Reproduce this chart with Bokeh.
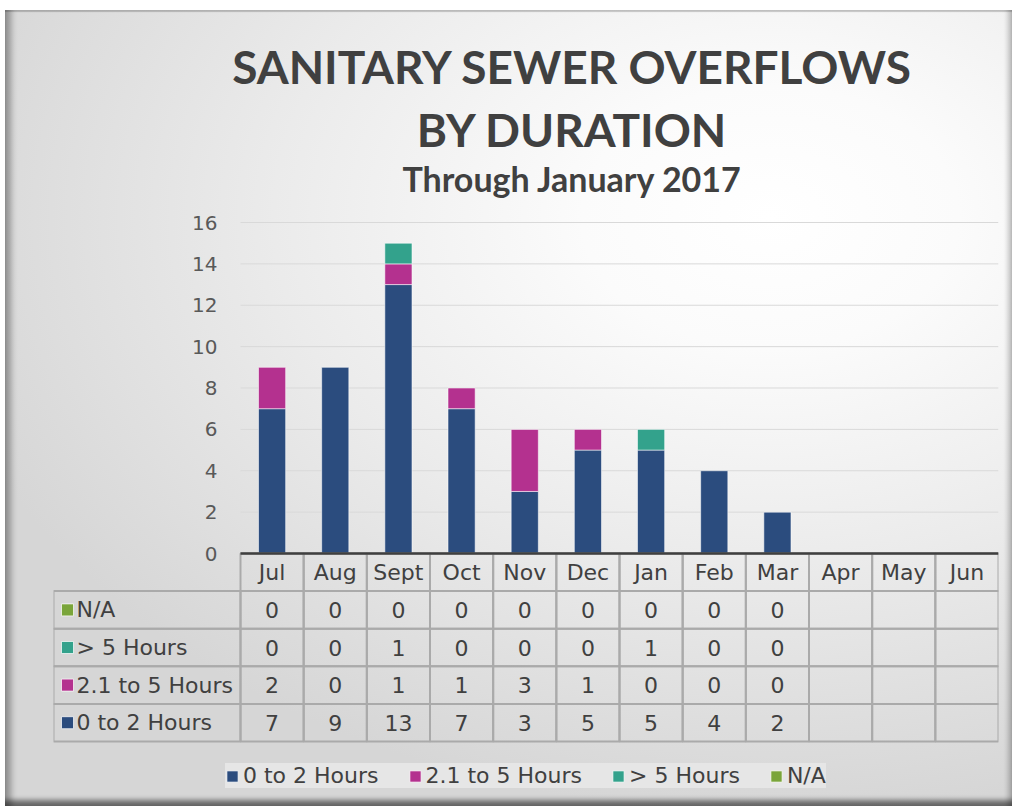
from bokeh.plotting import figure
from bokeh.models import Range1d, FixedTicker, Label, Legend, LegendItem, ColumnDataSource
from bokeh.core.properties import value
from bokeh.embed import file_html
from bokeh.resources import INLINE

# ---------------- data ----------------
months = ["Jul", "Aug", "Sept", "Oct", "Nov", "Dec", "Jan", "Feb", "Mar", "Apr", "May", "Jun"]
hrs_0_2 = [7, 9, 13, 7, 3, 5, 5, 4, 2, None, None, None]
hrs_2_5 = [2, 0, 1, 1, 3, 1, 0, 0, 0, None, None, None]
hrs_gt5 = [0, 0, 1, 0, 0, 0, 1, 0, 0, None, None, None]
hrs_na = [0, 0, 0, 0, 0, 0, 0, 0, 0, None, None, None]

series_names = ["0 to 2 Hours", "2.1 to 5 Hours", "> 5 Hours", "N/A"]
series_vals = [hrs_0_2, hrs_2_5, hrs_gt5, hrs_na]
series_colors = ["#2B4C7E", "#B4318F", "#33A28C", "#7AA53A"]
y_ticks = [0, 2, 4, 6, 8, 10, 12, 14, 16]

title_lines = ["SANITARY SEWER OVERFLOWS", "BY DURATION"]
subtitle = "Through January 2017"

# ---------------- layout (screen px of the reference) ----------------
OX, OY = 5, 10                     # canvas origin on the page
W, H = 1007, 796
PLOT_L, PLOT_R = 240, 998          # bar area
TBL_L = 53                         # table label column left edge
ZERO_Y = 553                       # value 0
VAL_PX = 331.0 / 16                # px per value unit
COL_PX = (PLOT_R - PLOT_L) / 12.0  # px per month column
ROW_H = 37.6 / VAL_PX              # table row height (y units)
LEFT_COL = (PLOT_L - TBL_L) / COL_PX

TXT = "#404040"
TFONT = "Lato"
FONT = "DejaVu Sans"

def ypx(py):
    return (ZERO_Y - py) / VAL_PX

def xpx(px):
    return (px - PLOT_L) / COL_PX

frame_l = TBL_L - OX
frame_r = PLOT_R - OX
y_start = ypx(OY + H)
y_end = ypx(OY)

p = figure(width=W, height=H, output_backend="svg", toolbar_location=None,
           x_range=Range1d(-LEFT_COL, len(months)), y_range=Range1d(y_start, y_end),
           x_axis_location=None, y_axis_location="left",
           min_border_left=frame_l, min_border_right=W - frame_r,
           min_border_top=0, min_border_bottom=0)
p.background_fill_color = None
p.border_fill_color = None
p.outline_line_color = None
p.xgrid.visible = False
p.ygrid.visible = False
p.styles = {
    "margin": f"{OY}px 0 0 {OX}px",
    "background": "radial-gradient(ellipse 85% 75% at 76% 26%, #ffffff 0%, #fbfbfb 22%, #ebebeb 58%, #d6d6d6 100%)",
    "box-shadow": "inset 10px 0 6px -4px rgba(0,0,0,0.32), inset 0 -9px 5px -3px rgba(0,0,0,0.50), "
                  "inset -7px 0 5px -3px rgba(0,0,0,0.22), inset 0 2px 1px 0 rgba(0,0,0,0.18)",
}

# y axis
ax = p.yaxis[0]
ax.fixed_location = 0
ax.bounds = (0, 16)
ax.ticker = FixedTicker(ticks=y_ticks)
ax.axis_line_color = None
ax.major_tick_line_color = None
ax.minor_tick_line_color = None
ax.major_label_standoff = 17
ax.major_label_text_font_size = "20px"
ax.major_label_text_font = FONT
ax.major_label_text_color = "#595959"

n = len(months)
# horizontal gridlines
grid_y = [t for t in y_ticks if t > 0]
p.segment(x0=[0] * len(grid_y), x1=[n] * len(grid_y), y0=grid_y, y1=grid_y,
          line_color="#D9D9D9", line_width=1)

# stacked bars
base = [0.0] * n
for name, vals, col in zip(series_names, series_vals, series_colors):
    xs, bots, tops = [], [], []
    for i, v in enumerate(vals):
        if v is None:
            continue
        if v > 0:
            xs.append(i + 0.5)
            bots.append(base[i])
            tops.append(base[i] + v)
        base[i] += v
    src = ColumnDataSource(dict(x=xs, bottom=bots, top=tops))
    p.vbar(x="x", bottom="bottom", top="top", width=0.43, source=src,
           fill_color=col, line_color="#FFFFFF", line_alpha=0.55, line_width=1)

# table
rows = list(reversed(list(zip(series_names, series_vals, series_colors))))  # N/A at top
cx, cy, cw = [], [], []
for r_i in range(len(rows) + 1):
    for i in range(n):
        cx.append(i + 0.5)
        cy.append(-(r_i + 0.5) * ROW_H)
        cw.append(1)
for r_i in range(1, len(rows) + 1):
    cx.append(-LEFT_COL / 2)
    cy.append(-(r_i + 0.5) * ROW_H)
    cw.append(LEFT_COL)
p.rect(x=cx, y=cy, width=cw, height=ROW_H, fill_alpha=0,
       line_color="#AAAAAA", line_width=2)

# axis baseline
p.segment(x0=[0], x1=[n], y0=[0], y1=[0], line_color="#3F3F3F", line_width=2.5)

# month header
p.text(x=[i + 0.5 for i in range(n)], y=[-0.5 * ROW_H] * n, text=months,
       text_font=value(FONT), text_font_size=value("22px"), text_color=TXT,
       text_align="center", text_baseline="middle")

# cell values
tx, ty, tt = [], [], []
for r_i, (name, vals, col) in enumerate(rows, start=1):
    for i, v in enumerate(vals):
        tx.append(i + 0.5)
        ty.append(-(r_i + 0.5) * ROW_H)
        tt.append("" if v is None else str(v))
p.text(x=tx, y=ty, text=tt, text_font=value(FONT), text_font_size=value("22px"),
       text_color=TXT, text_align="center", text_baseline="middle")

# row labels with keys (one renderer per series, reused for the legend)
key_r = {}
for r_i, (name, vals, col) in enumerate(rows, start=1):
    key_r[name] = p.rect(x=[xpx(TBL_L + 14)], y=[-(r_i + 0.5) * ROW_H],
                         width=12, height=12, width_units="screen", height_units="screen",
                         fill_color=col, line_color="#FFFFFF", line_alpha=0.7)
p.text(x=[xpx(TBL_L + 23)] * len(rows),
       y=[-(r_i + 0.5) * ROW_H for r_i in range(1, len(rows) + 1)],
       text=[nm for nm, _, _ in rows],
       text_font=value(FONT), text_font_size=value("22px"), text_color=TXT,
       text_align="left", text_baseline="middle")

# titles
tcx = xpx(572)
for txt, base_y, size in [(title_lines[0], 66, "46px"), (title_lines[1], 129, "46px"),
                          (subtitle, 178, "34px")]:
    p.add_layout(Label(x=tcx, y=ypx(base_y), text=txt, text_align="center",
                       text_baseline="alphabetic", text_font=TFONT, text_font_style="bold",
                       text_font_size=size, text_color=TXT))

# legend
legend = Legend(items=[LegendItem(label=nm, renderers=[key_r[nm]]) for nm in series_names],
                orientation="horizontal", location=(172, 18),
                background_fill_color="#E6E6E6", background_fill_alpha=1,
                border_line_color=None, label_text_font=FONT, label_text_font_size="22px",
                label_text_color=TXT, glyph_width=14, glyph_height=14, spacing=29,
                label_standoff=4, padding=12, margin=0)
p.add_layout(legend)

open("out.html", "w").write(file_html(p, INLINE))
